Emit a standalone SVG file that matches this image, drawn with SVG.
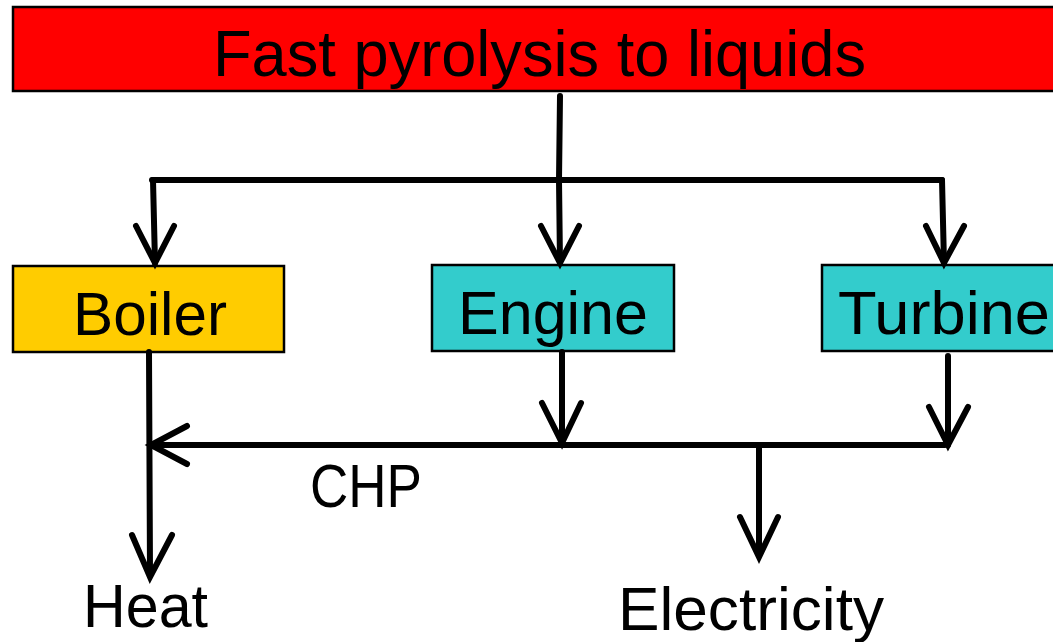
<svg xmlns="http://www.w3.org/2000/svg" width="1053" height="642" viewBox="0 0 1053 642">
<style>
.box{stroke:#000;stroke-width:2.5}
.t{font-family:"Liberation Sans Narrow","Liberation Sans",Arial,sans-serif;fill:#000}
.ln{stroke:#000;stroke-width:6;fill:none;stroke-linecap:round;stroke-linejoin:round}
.ah{stroke:#000;stroke-width:6;fill:none;stroke-linecap:round;stroke-linejoin:miter}
</style>
<rect width="1053" height="642" fill="#fff"/>
<g id="node-pyrolysis">
<rect class="box" x="13" y="7" width="1045" height="84" fill="#ff0000"/>
<text class="t" x="213" y="76" font-size="64" textLength="653" lengthAdjust="spacingAndGlyphs">Fast pyrolysis to liquids</text>
</g>
<g id="node-boiler">
<rect class="box" x="13" y="266" width="271" height="86" fill="#ffcc00"/>
<text class="t" x="73" y="335" font-size="61" textLength="154" lengthAdjust="spacingAndGlyphs">Boiler</text>
</g>
<g id="node-engine">
<rect class="box" x="432" y="265" width="242" height="86" fill="#33cccc"/>
<text class="t" x="458" y="334" font-size="61" textLength="190" lengthAdjust="spacingAndGlyphs">Engine</text>
</g>
<g id="node-turbine">
<rect class="box" x="822" y="265" width="240" height="86" fill="#33cccc"/>
<text class="t" x="838" y="334" font-size="61" textLength="212" lengthAdjust="spacingAndGlyphs">Turbine</text>
</g>
<g id="labels">
<text class="t" x="310" y="507" font-size="61" textLength="112" lengthAdjust="spacingAndGlyphs">CHP</text>
<text class="t" x="83" y="627" font-size="61" textLength="125" lengthAdjust="spacingAndGlyphs">Heat</text>
<text class="t" x="618" y="630" font-size="61" textLength="266" lengthAdjust="spacingAndGlyphs">Electricity</text>
</g>
<g id="connectors">
<path class="ln" d="M560 96 L559 180"/>
<path class="ln" d="M152 180 L942 180"/>
<path class="ln" d="M153 180 L155 263"/>
<path class="ah" d="M136 226 L155 263 L174 226"/>
<path class="ln" d="M559 180 L560 263"/>
<path class="ah" d="M541 226 L560 263 L579 226"/>
<path class="ln" d="M942 180 L944 263"/>
<path class="ah" d="M926 226 L944 263 L964 226"/>
<path class="ln" d="M562 352 L562 443"/>
<path class="ah" d="M542 403 L562 443 L581 403"/>
<path class="ln" d="M948 356 L948 445"/>
<path class="ah" d="M929 407 L948 445 L968 407"/>
<path class="ln" d="M150 445 L945 445"/>
<path class="ah" d="M187 426 L151 445 L187 464"/>
<path class="ln" d="M149 352 L150 575"/>
<path class="ah" d="M132 535 L150 577 L172 535"/>
<path class="ln" d="M759 445 L759 555"/>
<path class="ah" d="M740 517 L759 557 L778 517"/>
</g>
</svg>
